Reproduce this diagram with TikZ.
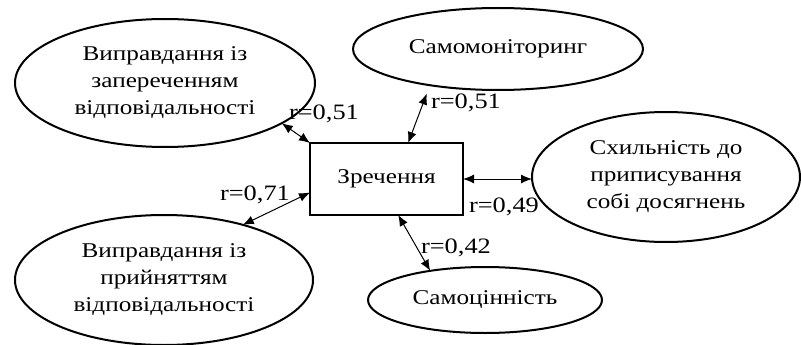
\documentclass[tikz,border=0pt]{standalone}
\usepackage{fontspec}
\setmainfont{Liberation Serif}[FakeStretch=1.2]
\usetikzlibrary{shapes.geometric,arrows.meta}
\begin{document}
\begin{tikzpicture}[x=1pt,y=-1pt,
  every node/.style={font=\fontsize{21}{27}\selectfont},
  oval/.style={draw, line width=2pt, ellipse, inner sep=0pt, outer sep=0pt, align=center},
  box/.style={draw, line width=2.4pt, rectangle, inner sep=0pt, outer sep=0pt, minimum width=153pt, minimum height=72pt},
  arr/.style={line width=1pt, {Latex[length=11pt,width=9pt]}-{Latex[length=11pt,width=9pt]}},
  lab/.style={font=\fontsize{22}{24}\selectfont, inner sep=0pt}]
\useasboundingbox (0,0) rectangle (801,345);
\node[oval, minimum width=300pt, minimum height=128pt] (e1) at (165,83) {Виправдання із\\запереченням\\відповідальності};
\node[oval, minimum width=290pt, minimum height=82pt] (e2) at (498,49) {Самомоніторинг};
\node[box] (r) at (386.5,179) {Зречення};
\node[oval, minimum width=268pt, minimum height=130pt] (e3) at (666,177) {Схильність до\\приписування\\собі досягнень};
\node[oval, minimum width=298pt, minimum height=130pt] (e5) at (164,280) {Виправдання із\\прийняттям\\відповідальності};
\node[oval, minimum width=234pt, minimum height=66pt] (e6) at (485,300) {Самоцінність};
\draw[arr] (e1.-19) -- (r.north west);
\draw[arr, shorten <=9pt] (e2.-152) -- (r.59);
\draw[arr] (r.east) -- (r.east -| e3.west);
\draw[arr] (r.-72) -- (e6.152);
\draw[arr] (r.-170) -- (e5.35);
\node[lab] (l1) at (324,114) {r=0,51};
\node[lab] (l2) at (466,103) {r=0,51};
\node[lab] (l3) at (504,207) {r=0,49};
\node[lab] (l4) at (456,248) {r=0,42};
\node[lab] (l5) at (255,195) {r=0,71};
\end{tikzpicture}
\end{document}
